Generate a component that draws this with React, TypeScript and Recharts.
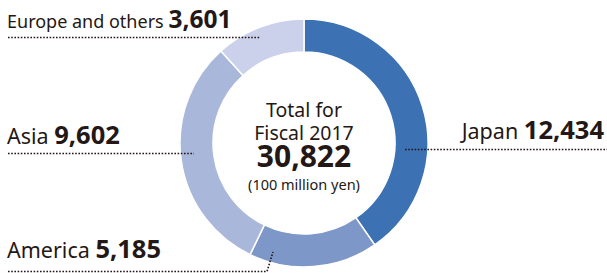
import { PieChart, Pie, Cell } from "recharts";

const regions = ["Japan", "America", "Asia", "Europe and others"];
const sales = [12434, 5185, 9602, 3601];
const sliceColors = ["#3c72b4", "#7e97c9", "#a9b7db", "#cbd1ea"];
const totalLines = ["Total for", "Fiscal 2017"];
const unitLabel = "(100 million yen)";

const chartData = regions.map((name, i) => ({ name, value: sales[i] }));
const total = sales.reduce((a, b) => a + b, 0);

const W = 607;
const H = 273;
const CX = 304;
const CY = 143;
const FONT = "'Noto Sans', 'DejaVu Sans', sans-serif";
const INK = "#231815";

const fmt = (v: number) => v.toLocaleString("en-US");

function RegionLabel({
  x,
  y,
  anchor,
  name,
  value,
  nameSize = 21.5,
  valueSize = 25.5,
}: {
  x: number;
  y: number;
  anchor: "start" | "end";
  name: string;
  value: number;
  nameSize?: number;
  valueSize?: number;
}) {
  return (
    <text x={x} y={y} textAnchor={anchor} fill={INK} fontFamily={FONT}>
      <tspan fontSize={nameSize}>{name} </tspan>
      <tspan fontSize={valueSize} fontWeight={700}>
        {fmt(value)}
      </tspan>
    </text>
  );
}

export default function App() {
  const dot = { stroke: INK, strokeWidth: 1.6, strokeDasharray: "1.6 1.6", fill: "none" };
  return (
    <div style={{ position: "absolute", left: 0, top: 0, width: W, height: H, background: "#fff" }}>
      <PieChart width={W} height={H} margin={{ top: 0, right: 0, bottom: 0, left: 0 }}>
        <Pie
          data={chartData}
          dataKey="value"
          nameKey="name"
          cx={CX}
          cy={CY}
          innerRadius={91}
          outerRadius={124}
          startAngle={90}
          endAngle={-270}
          stroke="#ffffff"
          strokeWidth={1.5}
          isAnimationActive={false}
        >
          {chartData.map((d, i) => (
            <Cell key={d.name} fill={sliceColors[i]} />
          ))}
        </Pie>
      </PieChart>
      <svg
        width={W}
        height={H}
        style={{ position: "absolute", left: 0, top: 0, pointerEvents: "none" }}
      >
        {/* Europe */}
        <RegionLabel x={7} y={28} anchor="start" name={regions[3]} value={sales[3]} nameSize={18} valueSize={24.5} />
        <line x1={8} y1={37.5} x2={260} y2={37.5} {...dot} />
        {/* Asia */}
        <RegionLabel x={7} y={144} anchor="start" name={regions[2]} value={sales[2]} />
        <line x1={8} y1={153.5} x2={194} y2={153.5} {...dot} />
        {/* Japan */}
        <RegionLabel x={604} y={139} anchor="end" name={regions[0]} value={sales[0]} />
        <line x1={405} y1={149.5} x2={607} y2={149.5} {...dot} />
        {/* America */}
        <RegionLabel x={7} y={258} anchor="start" name={regions[1]} value={sales[1]} />
        <polyline points="8,271.5 267,271.5 273,252" {...dot} />

        <g fill={INK} fontFamily={FONT} textAnchor="middle">
          <text x={CX} y={117} fontSize={19.5}>
            {totalLines[0]}
          </text>
          <text x={CX} y={140} fontSize={19.5}>
            {totalLines[1]}
          </text>
          <text x={CX} y={167} fontSize={30} fontWeight={700}>
            {fmt(total)}
          </text>
          <text x={CX} y={190} fontSize={14.5}>
            {unitLabel}
          </text>
        </g>
      </svg>
    </div>
  );
}
